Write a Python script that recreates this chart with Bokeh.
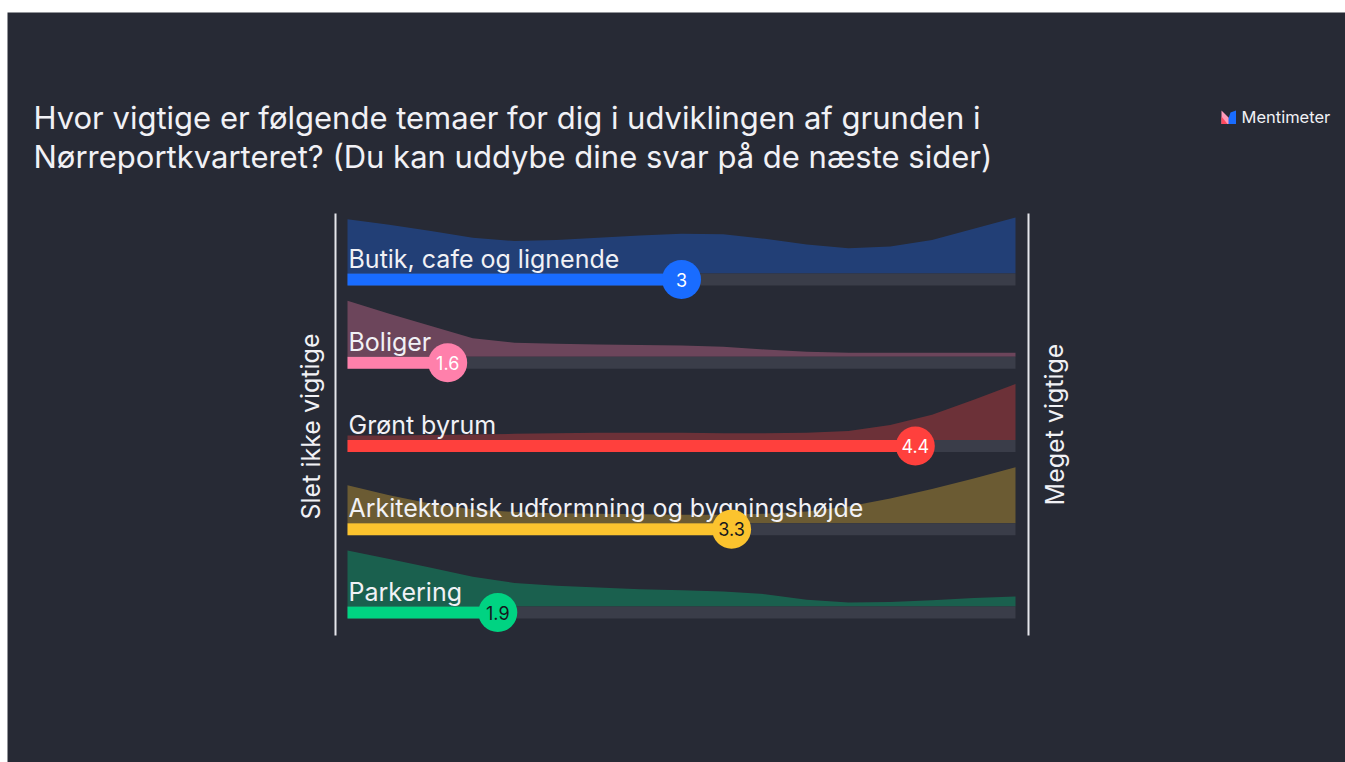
from bokeh.plotting import figure
from bokeh.models import Range1d
from bokeh.embed import file_html
from bokeh.resources import INLINE
from bokeh.core.properties import value

# ---------------- data ----------------
title_lines = [
    "Hvor vigtige er følgende temaer for dig i udviklingen af grunden i",
    "Nørreportkvarteret? (Du kan uddybe dine svar på de næste sider)",
]
categories = [
    "Butik, cafe og lignende",
    "Boliger",
    "Grønt byrum",
    "Arkitektonisk udformning og bygningshøjde",
    "Parkering",
]
averages = [3, 1.6, 4.4, 3.3, 1.9]
average_labels = ["3", "1.6", "4.4", "3.3", "1.9"]
scale_min = 1
scale_max = 5
left_label = "Slet ikke vigtige"
right_label = "Meget vigtige"
brand = "Mentimeter"

# relative response density along the scale
density_x = [1.0, 1.25, 1.5, 1.75, 2.0, 2.25, 2.5, 2.75, 3.0,
             3.25, 3.5, 3.75, 4.0, 4.25, 4.5, 4.75, 5.0]
density_butik = [0.97, 0.87, 0.76, 0.64, 0.58, 0.60, 0.64, 0.68, 0.71,
                 0.70, 0.62, 0.52, 0.45, 0.48, 0.60, 0.80, 1.00]
density_boliger = [1.00, 0.77, 0.55, 0.33, 0.25, 0.23, 0.22, 0.21, 0.20,
                   0.18, 0.13, 0.09, 0.07, 0.07, 0.07, 0.07, 0.07]
density_groent = [0.08, 0.08, 0.09, 0.10, 0.11, 0.12, 0.13, 0.13, 0.13,
                  0.12, 0.12, 0.13, 0.16, 0.27, 0.45, 0.72, 1.00]
density_arkitektur = [0.68, 0.50, 0.35, 0.25, 0.20, 0.18, 0.17, 0.16, 0.15,
                      0.15, 0.17, 0.21, 0.30, 0.44, 0.61, 0.80, 1.00]
density_parkering = [1.00, 0.85, 0.69, 0.53, 0.42, 0.37, 0.34, 0.31, 0.29,
                     0.27, 0.22, 0.12, 0.07, 0.08, 0.11, 0.15, 0.18]
densities = [density_butik, density_boliger, density_groent,
             density_arkitektur, density_parkering]

# ---------------- style ----------------
bar_colors = ["#196cff", "#ff80ab", "#ff403d", "#fbc32e", "#00d382"]
value_text_colors = ["#ffffff", "#ffffff", "#ffffff", "#15171d", "#15171d"]
BG = "#272a35"
TRACK = "#3a3d49"
TEXT = "#f1f1f5"
FONT = value("Inter")

W, H = 1345, 762
FL, FT = 7, 12                 # white strip left / top
PX_UNIT = (1015 - 347) / (scale_max - scale_min)
x_start = scale_min - (347 - FL) / PX_UNIT
x_end = x_start + (W - FL) / PX_UNIT


def sx(px):
    return x_start + (px - FL) / PX_UNIT


ROW0, ROW_STEP = 279, 83.25
BAR_H, AREA_H = 12, 56

p = figure(width=W, height=H, output_backend="svg", toolbar_location=None,
           x_range=Range1d(x_start, x_end), y_range=Range1d(H, FT),
           min_border_left=FL, min_border_top=FT, min_border_right=0,
           min_border_bottom=0)
p.xaxis.visible = False
p.yaxis.visible = False
p.xgrid.visible = False
p.ygrid.visible = False
p.outline_line_color = None
p.background_fill_color = BG
p.border_fill_color = "#ffffff"

centers = [ROW0 + ROW_STEP * i for i in range(len(categories))]

for i, cat in enumerate(categories):
    c = centers[i]
    top = c - BAR_H / 2
    dens = densities[i]
    p.varea(x=density_x, y1=[top] * len(density_x),
            y2=[top - d * AREA_H for d in dens],
            fill_color=bar_colors[i], fill_alpha=0.32)

# tracks and bars
p.hbar(y=centers, left=scale_min, right=scale_max, height=BAR_H,
       fill_color=TRACK, line_color=None)
p.hbar(y=centers, left=scale_min, right=averages, height=BAR_H,
       fill_color=bar_colors, line_color=None)

# category labels
p.text(x=[sx(348)] * len(categories), y=[c - 21 for c in centers],
       text=categories, text_font=FONT, text_font_size="25px",
       text_color=TEXT, text_baseline="alphabetic", text_align="left")

# value markers
p.scatter(x=averages, y=centers, size=39, marker="circle",
          fill_color=bar_colors, line_color=None)
p.text(x=averages, y=[c for c in centers], text=average_labels,
       text_font=FONT, text_font_size="18px", text_color=value_text_colors,
       text_align="center", text_baseline="middle")

# side lines
p.segment(x0=[sx(335), sx(1028)], y0=[213, 213], x1=[sx(335), sx(1028)],
          y1=[635, 635], line_color="#e6e6ec", line_width=2)
p.text(x=[sx(310)], y=[426], text=[left_label], angle=1.5708,
       text_font=FONT, text_font_size="25px", text_color=TEXT,
       text_align="center", text_baseline="alphabetic")
p.text(x=[sx(1054)], y=[424], text=[right_label], angle=1.5708,
       text_font=FONT, text_font_size="25px", text_color=TEXT,
       text_align="center", text_baseline="alphabetic")

# title
p.text(x=[sx(33), sx(33)], y=[117, 155.5], text=title_lines,
       text_font=FONT, text_font_size="31px", text_color=TEXT,
       text_baseline="alphabetic", text_align="left")

# brand
p.patch(x=[sx(1221), sx(1229), sx(1229), sx(1221)], y=[110, 118, 123.5, 123.5],
        fill_color="#ff9ab8", line_color=None)
p.patch(x=[sx(1221), sx(1227), sx(1221)], y=[116, 123.5, 123.5],
        fill_color="#ff4a5e", line_color=None)
p.patch(x=[sx(1228), sx(1230), sx(1235.5), sx(1235.5), sx(1228)],
        y=[118, 112, 110, 123.5, 123.5], fill_color="#196cff", line_color=None)
p.text(x=[sx(1241)], y=[116], text=[brand], text_font=FONT,
       text_font_size="16.5px", text_color=TEXT, text_baseline="alphabetic")

open("out.html", "w").write(file_html(p, INLINE))
